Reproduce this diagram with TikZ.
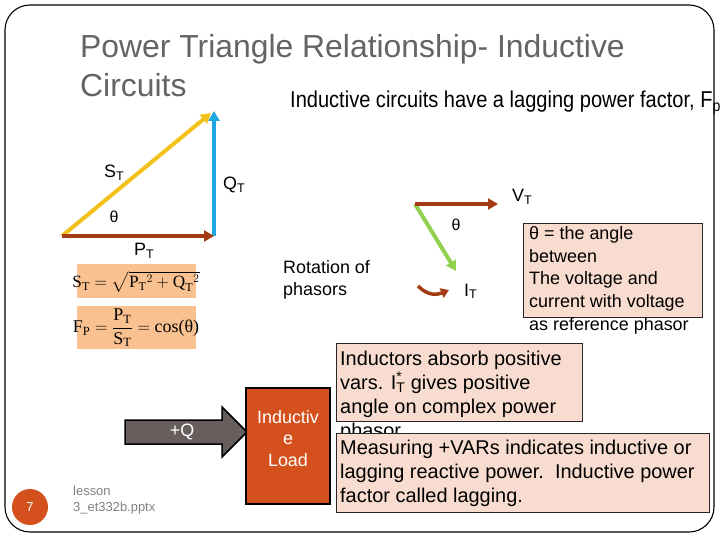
\documentclass[tikz,border=0pt]{standalone}
\usepackage{fontspec}
\usepackage{amsmath}
\setmainfont{Liberation Sans}
\newfontfamily\tnr{Liberation Serif}
\usetikzlibrary{arrows.meta}
\definecolor{titlegray}{HTML}{646464}
\definecolor{brownc}{HTML}{A33B14}
\definecolor{bluec}{HTML}{1FA5E0}
\definecolor{yellowc}{HTML}{F2C21B}
\definecolor{greenc}{HTML}{92D050}
\definecolor{peach}{HTML}{FAC190}
\definecolor{pinkfill}{HTML}{F8DCCF}
\definecolor{loadc}{HTML}{D4501C}
\definecolor{arrowgray}{HTML}{685E5E}
\definecolor{footgray}{HTML}{808080}
\newcommand{\tv}[1]{\textrm{\tnr #1}}
\newcommand{\mysub}[1]{\textsubscript{#1}}
\begin{document}
\begin{tikzpicture}[x=1bp,y=-1bp,
  tri/.style={line width=4bp,-{Triangle[length=10bp,width=11bp]}},
  lbl/.style={inner sep=0pt, anchor=base west, font=\fontsize{18}{21}\selectfont},
  big/.style={inner sep=0pt, anchor=base west, font=\fontsize{20}{24}\selectfont},
  pinkbox/.style={draw=black!85, line width=0.9bp, fill=pinkfill},
  peachbox/.style={fill=peach}]
\useasboundingbox (0,0) rectangle (720,540);
\draw[line width=1.1bp, rounded corners=25bp] (5,5) rectangle (714,532);

% title
\node[inner sep=0pt, anchor=base west, text=titlegray, font=\fontsize{32}{38}\selectfont] (t1) at (80,58) {Power Triangle Relationship- Inductive};
\node[inner sep=0pt, anchor=base west, text=titlegray, font=\fontsize{32}{38}\selectfont] (t2) at (80,97) {Circuits};
\node[inner sep=0pt, anchor=base west, font=\fontsize{23}{27}\selectfont] (sub) at (290,108) {\scalebox{0.875}[1]{Inductive circuits have a lagging power factor, F\mysub{p}}};

% power triangle
\coordinate (O) at (62,236);
\coordinate (R) at (214,236);
\coordinate (Top) at (214,111);
\coordinate (Ytip) at (211,113);
\draw[tri, bluec] (R) -- (Top);
\draw[tri, yellowc] (O) -- (Ytip);
\draw[tri, brownc] (O) -- (R);
\node[lbl] (st) at (104,178) {S\mysub{T}};
\node[lbl] (qt) at (223,190) {Q\mysub{T}};
\node[inner sep=0pt, font=\fontsize{16}{19}\selectfont] (th1) at (114,217) {θ};
\node[lbl] (pt) at (134,256) {P\mysub{T}};

% formulas
\fill[peach] (77,264) rectangle (196,298);
\fill[peach] (77,306) rectangle (196,349);
\node[inner sep=0pt, font=\fontsize{17.3}{21}\selectfont] (f1) at (136,282)
  {$\tv{S}_{\tv{T}} = \sqrt{\tv{P}_{\tv{T}}{}^{2} + \tv{Q}_{\tv{T}}{}^{2}}$};
\node[inner sep=0pt, font=\fontsize{18}{21}\selectfont] (f2) at (136,328)
  {$\tv{F}_{\tv{P}} = \dfrac{\tv{P}_{\tv{T}}}{\tv{S}_{\tv{T}}} = \tv{cos(θ)}$};

% phasors
\coordinate (Vo) at (415,204);
\coordinate (Vt) at (498,204);
\coordinate (It) at (456,271);
\draw[tri, greenc] (Vo) -- (It);
\draw[tri, brownc] (Vo) -- (Vt);
\node[lbl] (vt) at (512,202) {V\mysub{T}};
\node[inner sep=0pt, font=\fontsize{16}{19}\selectfont] (th2) at (456,225) {θ};
\node[lbl] (it) at (464,296) {I\mysub{T}};
\coordinate (c1) at (418,286);
\coordinate (c2) at (449,290);
\draw[brownc, line width=3.5bp, -{Triangle[length=8bp,width=10bp]}] (c1) .. controls (428,296) and (437,295) .. (c2);
\node[lbl] (rot1) at (283,274) {Rotation of};
\node[lbl] (rot2) at (283,295) {phasors};

% theta box
\draw[pinkbox] (523,223) rectangle (702,317);
\foreach \t [count=\i] in {θ = the angle, between, The voltage and, current with voltage, as reference phasor}
  \node[lbl] (tb\i) at (529,{240+(\i-1)*22.5}) {\t};

% +Q arrow
\coordinate (q1) at (125,420);
\coordinate (q2) at (222,420);
\coordinate (q3) at (222,407);
\coordinate (q4) at (247,432);
\coordinate (q5) at (222,457);
\coordinate (q6) at (222,444);
\coordinate (q7) at (125,444);
\draw[fill=arrowgray, line width=1.5bp] (q1) -- (q2) -- (q3) -- (q4) -- (q5) -- (q6) -- (q7) -- cycle;
\node[inner sep=0pt, text=white, font=\fontsize{18}{21}\selectfont] (plusq) at (182,432) {+Q};

% load box
\draw[fill=loadc, line width=2bp] (246,388) rectangle (330,504);
\foreach \t [count=\i] in {Inductiv, e, Load}
  \node[inner sep=0pt, anchor=base, text=white, font=\fontsize{18}{21}\selectfont] (ld\i) at (288,{423+(\i-1)*21.5}) {\t};

% inductor boxes
\draw[pinkbox] (336,343) rectangle (582,421);
\node[big] (ia1) at (340,365) {Inductors absorb positive};
\node[big] (ia2) at (340,389) {vars. I\rlap{\textsuperscript{*}}\mysub{T} gives positive};
\node[big] (ia3) at (340,413) {angle on complex power};
\node[big] (ia4) at (340,437) {phasor};
\draw[pinkbox] (336,433) rectangle (709,512);
\node[big] (m1) at (340,454) {Measuring +VARs indicates inductive or};
\node[big] (m2) at (340,478) {lagging reactive power.\ \ Inductive power};
\node[big] (m3) at (340,502) {factor called lagging.};

% footer
\node[circle, fill=loadc, minimum size=36bp, inner sep=0pt, text=white, font=\fontsize{13}{15}\selectfont] (pg) at (30,507) {7};
\node[inner sep=0pt, anchor=base west, text=footgray, font=\fontsize{13}{15}\selectfont] (ls1) at (73,495) {lesson};
\node[inner sep=0pt, anchor=base west, text=footgray, font=\fontsize{13}{15}\selectfont] (ls2) at (73,511) {3\_et332b.pptx};
\end{tikzpicture}
\end{document}
